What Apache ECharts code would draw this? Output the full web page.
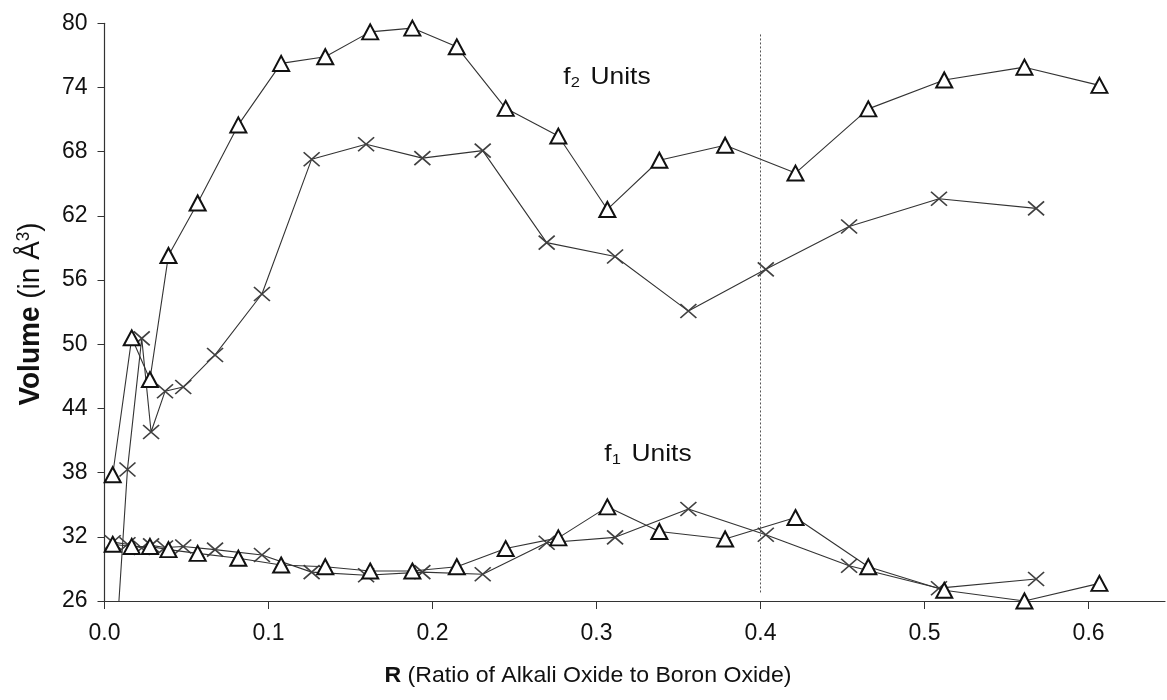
<!DOCTYPE html>
<html>
<head>
<meta charset="utf-8">
<title>Volume vs R</title>
<script src="https://cdn.jsdelivr.net/npm/echarts@6/dist/echarts.min.js"></script>
<style>
    html, body { margin: 0; padding: 0; background: #fff; }
    #chart { width: 1167px; height: 700px; }
</style>
</head>
<body>
<div id="chart"></div>
<script>
// R values (x) for the two kinds of markers
var rTri = [0.005, 0.0166, 0.0277, 0.039, 0.0568, 0.0816, 0.1077, 0.1346, 0.162, 0.1877, 0.2148,
            0.2446, 0.2767, 0.3066, 0.3383, 0.3784, 0.4213, 0.4657, 0.512, 0.5609, 0.6066];
var rCross = [0.005, 0.014, 0.0227, 0.0284, 0.0369, 0.048, 0.0674, 0.096, 0.1263, 0.1595, 0.1938,
              0.2306, 0.2696, 0.3113, 0.356, 0.4032, 0.454, 0.5088, 0.568];

// volumes (A^3)
var f2Tri = [37.8, 50.6, 46.7, 58.3, 63.2, 70.5, 76.25, 76.87, 79.2, 79.55, 77.8,
             72.05, 69.46, 62.6, 67.2, 68.6, 66.0, 72.0, 74.7, 75.9, 74.2];
var f1Tri = [31.3, 31.1, 31.1, 30.8, 30.45, 30.0, 29.36, 29.2, 28.8, 28.8, 29.2,
             30.9, 31.9, 34.8, 32.5, 31.8, 33.8, 29.2, 27.0, 26.0, 27.65];
var f2Cross = [17.0, 38.3, 50.55, 41.8, 45.6, 46.0, 49.0, 54.7, 67.3, 68.7, 67.4,
               68.1, 59.5, 58.2, 53.1, 57.0, 61.0, 63.6, 62.7];
var f1Cross = [31.5, 31.3, 30.95, 31.2, 31.0, 31.1, 30.8, 30.3, 28.7, 28.4, 28.7,
               28.5, 31.45, 31.95, 34.6, 32.2, 29.3, 27.2, 28.05];

var yTicks = [26, 32, 38, 44, 50, 56, 62, 68, 74, 80];
var xTicks = [0, 0.1, 0.2, 0.3, 0.4, 0.5, 0.6];
var dividerR = 0.4;

var FONT = 'Liberation Sans, Arial, sans-serif';
var crossPath = 'path://M0,0L10,10M10,0L0,10';

function pairs(xs, ys) {
    return xs.map(function (x, i) { return [x, ys[i]]; });
}

function triSeries(name, ys) {
    return {
        name: name,
        type: 'line',
        data: pairs(rTri, ys),
        symbol: 'triangle',
        symbolSize: [16, 15],
        itemStyle: { color: '#fff', borderColor: '#111', borderWidth: 2 },
        lineStyle: { color: '#333', width: 1.1 },
        emphasis: { disabled: true },
        z: 3
    };
}

function crossSeries(name, ys) {
    return {
        name: name,
        type: 'line',
        data: pairs(rCross, ys),
        symbol: crossPath,
        symbolSize: [16, 14],
        itemStyle: { color: 'none', borderColor: '#404040', borderWidth: 1.6 },
        lineStyle: { color: '#333', width: 1.1 },
        emphasis: { disabled: true },
        z: 2
    };
}

function label(text, x, y, size, extra) {
    var el = {
        type: 'text', x: x, y: y,
        scaleX: 1.1,
        style: {
            text: text, fill: '#111',
            font: size + 'px ' + FONT,
            align: 'center', verticalAlign: 'middle',
            rich: {
                b: { fontWeight: 'bold', fontSize: size, fontFamily: FONT },
                sup: { fontSize: Math.round(size * 0.62), fontFamily: FONT, verticalAlign: 'top', padding: [0, 0, Math.round(size * 0.5), 0] },
                sub: { fontSize: Math.round(size * 0.62), fontFamily: FONT, verticalAlign: 'bottom', padding: [12, 3, 0, 0] }
            }
        }
    };
    for (var k in extra) { el[k] = extra[k]; }
    return el;
}

var chart = echarts.init(document.getElementById('chart'));

var option = {
    animation: false,
    textStyle: { fontFamily: FONT },
    grid: { left: 104.5, right: 2, top: 23.3, bottom: 99 },
    xAxis: {
        type: 'value',
        min: 0,
        max: 0.6466,
        splitLine: { show: false },
        axisLine: { lineStyle: { color: '#333', width: 1.2 } },
        axisTick: { length: 8, lineStyle: { color: '#333' }, customValues: xTicks },
        axisLabel: {
            customValues: xTicks,
            color: '#111', fontSize: 23, margin: 21,
            formatter: function (v) { return v.toFixed(1); }
        }
    },
    yAxis: {
        type: 'value',
        min: 26,
        max: 80,
        splitLine: { show: false },
        axisLine: { show: true, lineStyle: { color: '#333', width: 1.2 } },
        axisTick: { show: true, length: 7, lineStyle: { color: '#333' }, customValues: yTicks },
        axisLabel: { customValues: yTicks, color: '#111', fontSize: 23, margin: 17 }
    },
    graphic: [
        label('{b|R} (Ratio of Alkali Oxide to Boron Oxide)', 588, 676, 22, { scaleX: 1.05 }),
        label('{b|Volume} (in Å{sup|3})', 31, 314, 28, { rotation: Math.PI / 2, scaleX: 1, scaleY: 1.05 }),
        label('f{sub|2} Units', 607, 77, 24),
        label('f{sub|1} Units', 648, 454, 24)
    ],
    series: [
        triSeries('f2 triangles', f2Tri),
        crossSeries('f2 crosses', f2Cross),
        triSeries('f1 triangles', f1Tri),
        crossSeries('f1 crosses', f1Cross),
        {
            type: 'line',
            data: [],
            markLine: {
                silent: true,
                symbol: 'none',
                label: { show: false },
                lineStyle: { type: [2, 2], color: '#555', width: 1 },
                data: [[{ coord: [dividerR, 26.8] }, { coord: [dividerR, 79.1] }]]
            }
        }
    ]
};

chart.setOption(option);
</script>
</body>
</html>
